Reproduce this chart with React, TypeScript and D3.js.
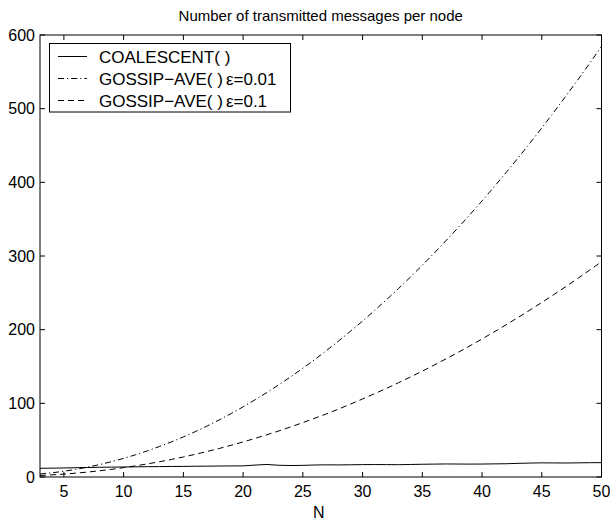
import React from "react";
import * as d3 from "d3";

const N: number[] = [3,4,5,6,7,8,9,10,11,12,13,14,15,16,17,18,19,20,21,22,23,24,25,26,27,28,29,30,31,32,33,34,35,36,37,38,39,40,41,42,43,44,45,46,47,48,49,50];
const coalescent: number[] = [11.8,12.0,12.3,12.6,12.9,13.2,13.4,13.6,13.8,14.0,14.1,14.3,14.4,14.6,14.7,14.9,15.0,15.1,16.2,17.0,15.9,15.6,15.8,16.3,16.5,16.4,16.6,16.8,16.9,16.8,16.7,17.0,17.3,17.5,17.7,17.6,17.5,17.6,17.8,18.0,18.5,18.9,19.2,19.1,19.0,19.2,19.4,19.5];
const gossip001: number[] = [4.1,5.7,7.8,10.4,13.4,16.9,20.9,25.3,30.2,35.6,41.4,47.7,54.4,61.6,69.3,77.5,86.1,95.2,104.8,114.8,125.3,136.2,147.6,159.5,171.9,184.7,198.0,211.7,225.9,240.6,255.7,271.3,287.4,304.0,321.0,338.5,356.4,374.8,393.7,413.0,432.8,453.1,473.8,495.0,516.7,538.8,561.4,584.5];
const gossip01: number[] = [2.0,2.9,3.9,5.2,6.7,8.5,10.4,12.7,15.1,17.8,20.7,23.8,27.2,30.8,34.7,38.7,43.1,47.6,52.4,57.4,62.6,68.1,73.8,79.8,85.9,92.3,99.0,105.9,113.0,120.3,127.9,135.7,143.7,152.0,160.5,169.2,178.2,187.4,196.8,206.5,216.4,226.5,236.9,247.5,258.3,269.4,280.7,292.2];
const xTicks: number[] = [5,10,15,20,25,30,35,40,45,50];
const yTicks: number[] = [0,100,200,300,400,500,600];
const seriesNames: string[] = ["COALESCENT( )", "GOSSIP\u2212AVE( )", "GOSSIP\u2212AVE( )"];
const seriesEps: string[] = ["", "\u03b5=0.01", "\u03b5=0.1"];
const titleText = "Number of transmitted messages per node";
const xLabel = "N";

const W = 610, H = 520;
const L = 40, R = 601.5, T = 35, B = 477;
const font = "'Liberation Sans', Arial, Helvetica, sans-serif";

export default function App() {
  const x = d3.scaleLinear().domain([3, 50]).range([L, R]);
  const y = d3.scaleLinear().domain([0, 600]).range([B, T]);
  const line = (vals: number[]) =>
    d3.line<number>().x((_, i) => x(N[i])).y((v) => y(v))(vals) || "";
  const series = [
    { vals: coalescent, dash: "none" },
    { vals: gossip001, dash: "6,3,1.2,3" },
    { vals: gossip01, dash: "6,4" },
  ];
  const tl = 5;
  return (
    <svg width={W} height={H} style={{ position: "absolute", left: 0, top: 0, background: "#fff" }} fontFamily={font}>
      <rect x={0} y={0} width={W} height={H} fill="#fff" />
      <text x={(L + R) / 2} y={21} textAnchor="middle" fontSize={15}>{titleText}</text>
      {series.map((s, i) => (
        <path key={i} d={line(s.vals)} fill="none" stroke="#000" strokeWidth={1} strokeDasharray={s.dash} />
      ))}
      <rect x={L} y={T} width={R - L} height={B - T} fill="none" stroke="#000" strokeWidth={1} />
      {xTicks.map((t) => (
        <g key={"x" + t}>
          <line x1={x(t)} x2={x(t)} y1={B} y2={B - tl} stroke="#000" />
          <line x1={x(t)} x2={x(t)} y1={T} y2={T + tl} stroke="#000" />
          <text x={x(t)} y={497} textAnchor="middle" fontSize={16}>{t}</text>
        </g>
      ))}
      {yTicks.map((t) => (
        <g key={"y" + t}>
          <line x1={L} x2={L + tl} y1={y(t)} y2={y(t)} stroke="#000" />
          <line x1={R} x2={R - tl} y1={y(t)} y2={y(t)} stroke="#000" />
          <text x={L - 5} y={y(t) + 5.7} textAnchor="end" fontSize={16}>{t}</text>
        </g>
      ))}
      <text x={(L + R) / 2 - 2} y={518} textAnchor="middle" fontSize={16}>{xLabel}</text>
      <rect x={49.5} y={43.5} width={241} height={68.5} fill="#fff" stroke="#000" strokeWidth={1} />
      {series.map((s, i) => (
        <g key={"lg" + i}>
          <line x1={58} x2={87} y1={56.5 + i * 22} y2={56.5 + i * 22} stroke="#000" strokeDasharray={s.dash} />
          <text x={99} y={62.5 + i * 22} fontSize={17}>
            {seriesNames[i]}
            {seriesEps[i] ? <tspan dx={3}>{seriesEps[i]}</tspan> : null}
          </text>
        </g>
      ))}
    </svg>
  );
}
